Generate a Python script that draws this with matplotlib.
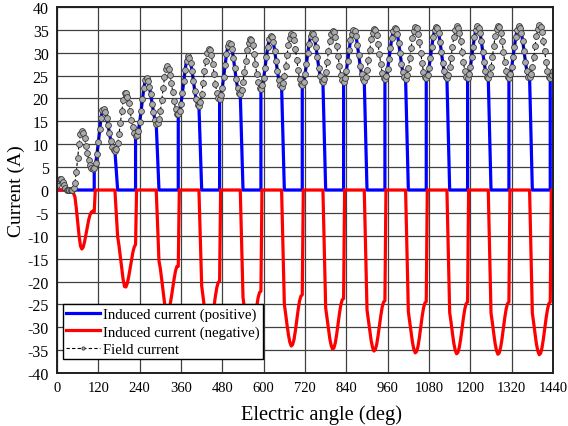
import numpy as np
import matplotlib.pyplot as plt

plt.rcParams['font.family'] = ['Liberation Serif', 'DejaVu Serif']
plt.rcParams['axes.unicode_minus'] = False

angle = np.arange(0, 1441, 4)
field = np.array([
    1.2, 2.2, 2.5, 2.3, 1.7, 1.0, 0.4, 0.1, 0.0, 0.0, 0.0, 0.1, 0.4, 1.5,
    4.0, 7.0, 10.0, 12.2, 12.9, 12.5, 11.3, 9.7, 8.0, 6.5, 5.4, 4.8, 4.6,
    4.8, 5.8, 7.8, 10.5, 13.3, 15.8, 17.4, 17.6, 17.0, 15.8, 14.2, 12.5, 10.8, 9.5, 8.8, 8.6,
    9.0, 10.2, 12.2, 14.7, 17.3, 19.6, 21.1, 21.2, 20.4, 19.0, 17.2, 15.4, 13.7, 12.5, 11.9,
    12.1, 13.0, 14.8, 17.2, 19.8, 22.2, 24.0, 24.5, 23.9, 22.6, 20.9, 18.9, 17.0, 15.4, 14.5,
    14.6, 15.5, 17.2, 19.6, 22.2, 24.6, 26.5, 27.1, 26.5, 25.2, 23.4, 21.4, 19.4, 17.7, 16.7,
    16.7, 17.3, 18.9, 21.2, 23.8, 26.3, 28.3, 29.2, 28.9, 27.8, 26.0, 23.8, 21.6, 19.8, 18.6,
    18.4, 19.2, 21.0, 23.3, 25.9, 28.2, 30.0, 30.8, 30.5, 29.4, 27.6, 25.4, 23.1, 21.3, 20.2,
    19.9, 20.7, 22.4, 24.8, 27.3, 29.7, 31.4, 32.2, 31.9, 30.8, 28.9, 26.6, 24.3, 22.4, 21.3,
    21.0, 21.8, 23.5, 25.8, 28.2, 30.5, 32.2, 33.0, 32.7, 31.6, 29.8, 27.6, 25.3, 23.5, 22.4,
    22.1, 22.9, 24.5, 26.7, 29.1, 31.3, 32.9, 33.7, 33.4, 32.3, 30.4, 28.2, 25.9, 24.0, 22.9,
    22.6, 23.4, 25.0, 27.2, 29.6, 31.7, 33.3, 34.1, 33.8, 32.7, 30.8, 28.5, 26.2, 24.3, 23.2,
    22.9, 23.7, 25.3, 27.5, 29.9, 32.0, 33.6, 34.4, 34.1, 33.0, 31.2, 29.0, 26.7, 24.9, 23.8,
    23.5, 24.3, 25.8, 28.0, 30.3, 32.5, 34.0, 34.8, 34.5, 33.4, 31.5, 29.3, 27.0, 25.1, 24.0,
    23.7, 24.5, 26.0, 28.2, 30.5, 32.7, 34.2, 35.0, 34.7, 33.6, 31.7, 29.5, 27.2, 25.3, 24.2,
    23.9, 24.7, 26.2, 28.4, 30.7, 32.9, 34.4, 35.2, 34.9, 33.8, 31.9, 29.7, 27.5, 25.6, 24.5,
    24.2, 25.0, 26.5, 28.7, 31.0, 33.2, 34.7, 35.5, 35.2, 34.1, 32.2, 29.9, 27.6, 25.7, 24.6,
    24.3, 25.1, 26.6, 28.8, 31.1, 33.3, 34.8, 35.6, 35.3, 34.2, 32.3, 30.0, 27.7, 25.8, 24.7,
    24.4, 25.2, 26.7, 28.9, 31.2, 33.4, 34.9, 35.7, 35.4, 34.3, 32.4, 30.1, 27.8, 25.9, 24.7,
    24.4, 25.2, 26.8, 28.9, 31.3, 33.5, 35.0, 35.8, 35.5, 34.4, 32.5, 30.2, 27.9, 26.0, 24.8,
    24.5, 25.3, 26.8, 29.0, 31.3, 33.5, 35.0, 35.8, 35.5, 34.4, 32.5, 30.2, 27.9, 26.0, 24.8,
    24.5, 25.3, 26.9, 29.0, 31.4, 33.6, 35.1, 35.9, 35.6, 34.4, 32.5, 30.2, 27.9, 26.0, 24.8,
    24.5, 25.3, 26.8, 29.0, 31.3, 33.5, 35.0, 35.8, 35.5, 34.4, 32.6, 30.3, 28.0, 26.0, 24.8,
    24.6, 25.4, 26.9, 29.1, 31.5, 33.7, 35.2, 36.0, 35.7, 34.5, 32.6, 30.3, 28.0, 26.1, 24.8,
    24.5, 25.2, 25.9,
])

# conduction windows (deg) of the two induced currents
blue_on = [108, 228, 352, 472, 592, 712, 832, 952, 1072, 1192, 1312, 1432]
blue_off = [168, 288, 412, 532, 652, 772, 892, 1012, 1132, 1252, 1372, 1440]
red_on = [44, 168, 288, 412, 532, 652, 772, 892, 1012, 1132, 1252, 1372]
red_off = [108, 228, 352, 472, 592, 712, 832, 952, 1072, 1192, 1312, 1432]

xb, yb = [0], [0]
for on, off in zip(blue_on, blue_off):
    m = (angle >= on) & (angle <= off)
    xb += [on] + list(angle[m])
    yb += [0] + list(field[m])
    if off < 1440:
        xb.append(off + 8)
        yb.append(0)

xr, yr = [0], [0]
for on, off in zip(red_on, red_off):
    m = (angle >= on + 8) & (angle <= off)
    xr += [on] + list(angle[m]) + [off + 3]
    yr += [0] + list(-field[m]) + [0]
xr.append(1440)
yr.append(0)

fig = plt.figure(figsize=(5.68, 4.27), dpi=100)
ax = fig.add_axes([0.1004, 0.1241, 0.8732, 0.8572])

ax.plot(xb, yb, color='#0000ff', lw=2.3, label='Induced current (positive)')
ax.plot(xr, yr, color='#ff0000', lw=2.3, label='Induced current (negative)')
ax.plot(angle, field, color='black', lw=0.8, ls=(0, (3, 2)), marker='o', ms=4.2,
        mfc='#ababab', mec='#3a3a3a', mew=0.6, label='Field current')

ax.set_xlim(0, 1440)
ax.set_ylim(-40, 40)
ax.set_xticks(np.arange(0, 1441, 120))
ax.set_yticks(np.arange(-40, 41, 5))
ax.tick_params(length=0, pad=6)
ax.tick_params(axis='x', labelsize=10.5)
ax.tick_params(axis='y', labelsize=11.5)
ax.grid(True, color='#404040', lw=0.9)
ax.set_axisbelow(True)
for s in ax.spines.values():
    s.set_linewidth(1.4)
    s.set_color('#202020')

ax.set_xlabel('Electric angle (deg)', fontsize=14.8, labelpad=5)
ax.xaxis.set_label_coords(0.533, -0.085)
ax.set_ylabel('Current (A)', fontsize=14, labelpad=2)

leg = ax.legend(loc='lower left', bbox_to_anchor=(0.004, 0.025), fontsize=10.6,
                fancybox=False, framealpha=1, edgecolor='black', handlelength=2.3,
                labelspacing=0.3, borderpad=0.2, handletextpad=0.2,
                borderaxespad=0.3, markerscale=0.55)
leg.get_frame().set_linewidth(1.0)

fig.savefig('out.png', dpi=100)
